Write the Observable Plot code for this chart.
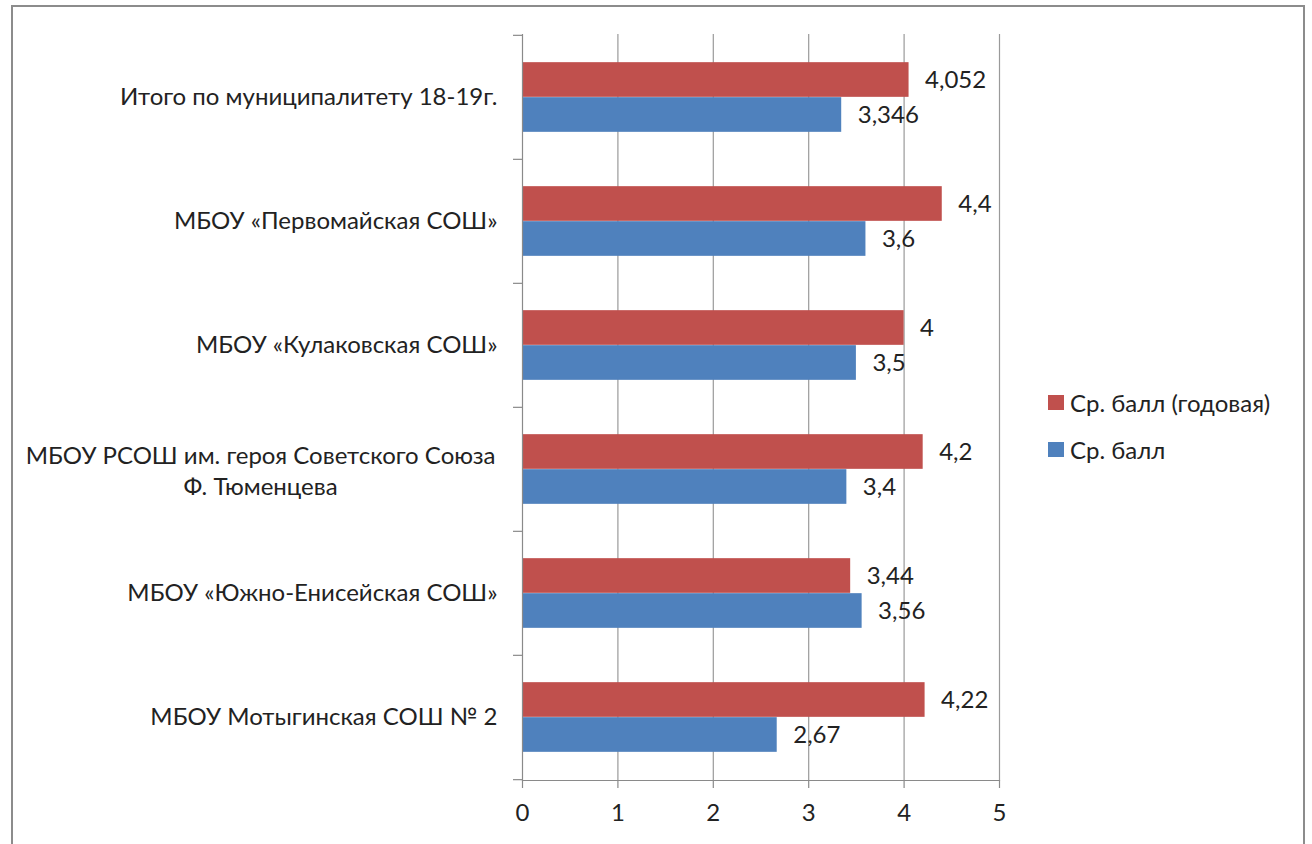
<!DOCTYPE html>
<html>
<head>
<meta charset="utf-8">
<script src="https://cdn.jsdelivr.net/npm/d3@7"></script>
<script src="https://cdn.jsdelivr.net/npm/@observablehq/plot@0.6"></script>
<style>
  html, body { margin: 0; padding: 0; background: #fff; overflow: hidden; }
  #wrap { position: relative; width: 1312px; height: 844px; }
  #border { position: absolute; left: 11px; top: 5px; width: 1294px; height: 900px; border: 2px solid #8c8c8c; box-sizing: border-box; }
  #chart { position: absolute; left: 0; top: 0; }
  #legend { position: absolute; left: 1048px; top: 390px; font-family: Lato, sans-serif; font-size: 24px; color: #222; }
  .row { display: flex; align-items: center; height: 24px; margin-bottom: 23px; }
  .sw { width: 16px; height: 15px; margin-right: 6px; flex: none; }
</style>
</head>
<body>
<div id="wrap">
  <div id="border"></div>
  <div id="chart"></div>
  <div id="legend"></div>
</div>
<script>
const categories = [
  "Итого по муниципалитету 18-19г.",
  "МБОУ «Первомайская СОШ»",
  "МБОУ «Кулаковская СОШ»",
  "МБОУ РСОШ им. героя Советского Союза\nФ. Тюменцева",
  "МБОУ «Южно-Енисейская СОШ»",
  "МБОУ Мотыгинская СОШ № 2"
];
const seriesNames = ["Ср. балл (годовая)", "Ср. балл"];
const annualValues = [4.052, 4.4, 4, 4.2, 3.44, 4.22];
const scoreValues = [3.346, 3.6, 3.5, 3.4, 3.56, 2.67];
const xTicks = [0, 1, 2, 3, 4, 5];
const colors = ["#C0504D", "#4F81BD"];

const annual = categories.map((c, i) => ({cat: c, v: annualValues[i]}));
const score = categories.map((c, i) => ({cat: c, v: scoreValues[i]}));
const fmt = v => String(v).replace(".", ",");

const W = 1312, H = 844;
const mTop = 34, mBottom = 64, mLeft = 522, mRight = 313;
const band = (H - mTop - mBottom) / categories.length;
const barH = 35;
const gap = (band - 2 * barH) / 2;
const FONT = "Lato, sans-serif";
const FS = 24;
const TXT = "#222";

// measure multiline label
const ctx = document.createElement("canvas").getContext("2d");
ctx.font = `${FS}px ${FONT}`;
const multi = categories.filter(c => c.includes("\n"));
const single = categories.filter(c => !c.includes("\n"));
const multiW = multi.length ? Math.max(...multi[0].split("\n").map(s => ctx.measureText(s).width)) : 0;

const chart = Plot.plot({
  width: W, height: H,
  marginTop: mTop, marginBottom: mBottom, marginLeft: mLeft, marginRight: mRight,
  style: {fontFamily: FONT, fontSize: FS + "px", color: TXT, background: "transparent"},
  x: {domain: [0, 5], ticks: xTicks, label: null},
  y: {domain: categories, padding: 0, axis: null},
  marks: [
    Plot.gridX(xTicks.filter(t => t > 0), {stroke: "#9a9a9a", strokeOpacity: 1, strokeWidth: 1.2}),
    Plot.axisX(xTicks, {tickSize: 8, tickPadding: 15, stroke: "#8a8a8a", strokeWidth: 1.2, label: null, fontSize: FS, fill: TXT}),
    Plot.barX(annual, {x: "v", y: "cat", fill: colors[0], insetTop: gap, insetBottom: band - gap - barH}),
    Plot.barX(score, {x: "v", y: "cat", fill: colors[1], insetTop: gap + barH, insetBottom: gap}),
    Plot.ruleX([0], {stroke: "#8a8a8a", strokeWidth: 1.2}),
    Plot.frame({anchor: "bottom", stroke: "#8a8a8a", strokeWidth: 1.2}),
    Plot.ruleY(categories, {y: d => d, x1: 0, x2: 0, insetLeft: -9, dy: -band / 2, stroke: "#8a8a8a", strokeWidth: 1.2}),
    Plot.ruleY(categories.slice(-1), {y: d => d, x1: 0, x2: 0, insetLeft: -9, dy: band / 2, stroke: "#8a8a8a", strokeWidth: 1.2}),
    Plot.text(annual, {x: "v", y: "cat", text: d => fmt(d.v), dx: 16, dy: -barH / 2, textAnchor: "start", fontSize: FS, fill: TXT}),
    Plot.text(score, {x: "v", y: "cat", text: d => fmt(d.v), dx: 16, dy: barH / 2, textAnchor: "start", fontSize: FS, fill: TXT}),
    Plot.text(single, {x: 0, y: d => d, text: d => d, dx: -25, textAnchor: "end", fontSize: FS, fill: TXT}),
    Plot.text(multi, {x: 0, y: d => d, text: d => d, dx: -27 - multiW / 2, textAnchor: "middle", lineHeight: 1.3, fontSize: FS, fill: TXT})
  ]
});
document.getElementById("chart").appendChild(chart);

const legend = document.getElementById("legend");
seriesNames.forEach((name, i) => {
  const row = document.createElement("div");
  row.className = "row";
  const sw = document.createElement("div");
  sw.className = "sw";
  sw.style.background = colors[i];
  const t = document.createElement("span");
  t.textContent = name;
  row.appendChild(sw);
  row.appendChild(t);
  legend.appendChild(row);
});
</script>
</body>
</html>
